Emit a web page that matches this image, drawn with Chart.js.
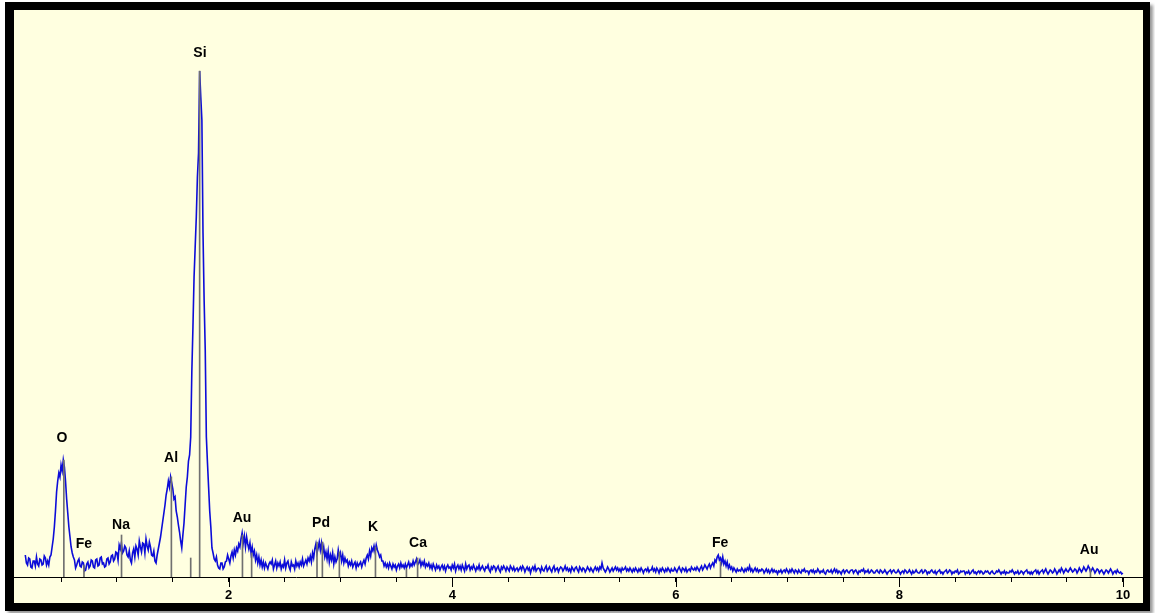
<!DOCTYPE html>
<html>
<head>
<meta charset="utf-8">
<script src="https://cdn.jsdelivr.net/npm/chart.js@4/dist/chart.umd.min.js"></script>
<style>
  body { margin: 0; background: #fff; width: 1155px; height: 613px; overflow: hidden; }
  #frame {
    position: absolute; left: 5px; top: 2px; width: 1129px; height: 593px;
    border-style: solid; border-color: #000; border-width: 8px 7px 8px 9px;
    background: #FFFFE0; box-shadow: 3px 3px 3px #999;
  }
  #spectrum { display: block; }
</style>
</head>
<body>
<div id="frame"><canvas id="spectrum" width="1129" height="593"></canvas></div>
<script>
// EDS spectrum, one channel every 0.01 keV starting at 0.18 keV
const startEnergy = 0.18;
const channelWidth = 0.01;
const counts = [
  22, 14, 12, 19, 18, 10, 9, 16, 16, 11, 20, 13, 11, 18, 17, 12, 13, 21, 19, 12,
  16, 12, 20, 22, 30, 38, 50, 66, 85, 96, 104, 100, 112, 106, 117, 110, 96, 78, 64, 50,
  40, 30, 24, 20, 17, 9, 12, 16, 18, 11, 10, 15, 14, 6, 7, 13, 15, 9, 11, 17,
  16, 10, 9, 17, 18, 11, 12, 19, 20, 13, 14, 10, 11, 18, 19, 13, 15, 21, 22, 16,
  18, 25, 24, 17, 32, 28, 34, 24, 26, 31, 29, 22, 20, 26, 17, 14, 24, 28, 20, 31,
  28, 22, 36, 30, 25, 34, 33, 24, 38, 31, 27, 35, 30, 22, 21, 26, 16, 14, 22, 28,
  34, 40, 48, 56, 64, 72, 82, 88, 96, 90, 100, 94, 88, 78, 80, 66, 60, 52, 45, 36,
  29, 42, 54, 72, 90, 100, 116, 122, 140, 205, 250, 300, 330, 360, 400, 424, 506, 480, 457, 344,
  277, 227, 140, 114, 90, 66, 50, 29, 24, 18, 16, 20, 12, 9, 8, 14, 14, 8, 10, 15,
  16, 22, 18, 14, 21, 25, 19, 27, 22, 29, 26, 33, 30, 38, 44, 34, 41, 30, 40, 33,
  28, 34, 24, 30, 22, 26, 17, 22, 14, 20, 12, 17, 10, 15, 9, 14, 11, 8, 13, 15,
  13, 17, 8, 12, 16, 9, 14, 11, 15, 8, 12, 10, 17, 9, 14, 16, 10, 7, 15, 11,
  12, 8, 16, 11, 14, 10, 15, 12, 18, 11, 14, 17, 13, 19, 16, 21, 15, 24, 19, 28,
  33, 24, 29, 35, 27, 34, 24, 30, 20, 25, 18, 26, 15, 22, 17, 24, 13, 20, 15, 18,
  27, 20, 24, 16, 22, 14, 19, 15, 17, 11, 15, 12, 16, 10, 13, 15, 9, 14, 11, 13,
  15, 10, 14, 17, 13, 19, 22, 18, 26, 21, 29, 26, 31, 25, 32, 27, 24, 20, 22, 16,
  16, 11, 14, 10, 13, 9, 14, 11, 8, 13, 10, 12, 7, 11, 13, 9, 14, 10, 12, 9,
  13, 9, 12, 15, 10, 13, 11, 16, 12, 15, 18, 12, 14, 17, 11, 15, 12, 16, 10, 13,
  11, 14, 9, 12, 8, 13, 10, 7, 12, 9, 11, 7, 10, 12, 8, 11, 6, 10, 12, 9,
  10, 7, 12, 9, 13, 6, 10, 12, 8, 11, 7, 12, 9, 6, 13, 8, 11, 12, 7, 10,
  8, 12, 9, 6, 10, 8, 12, 7, 9, 11, 8, 6, 10, 9, 12, 7, 5, 10, 8, 11,
  10, 6, 9, 11, 7, 5, 10, 8, 11, 9, 6, 10, 8, 6, 11, 9, 7, 10, 6, 8,
  9, 6, 8, 10, 7, 11, 9, 5, 8, 10, 7, 9, 4, 8, 10, 7, 11, 6, 8, 9,
  8, 5, 10, 7, 6, 9, 11, 6, 8, 10, 7, 5, 9, 11, 6, 8, 9, 5, 8, 10,
  9, 6, 8, 11, 7, 9, 6, 8, 5, 10, 8, 6, 9, 10, 7, 5, 10, 8, 6, 9,
  8, 5, 7, 10, 8, 6, 9, 7, 5, 8, 10, 7, 9, 6, 10, 8, 14, 9, 7, 5,
  7, 10, 8, 5, 7, 9, 6, 8, 10, 7, 9, 6, 8, 5, 9, 7, 8, 10, 6, 8,
  6, 9, 7, 5, 8, 6, 9, 7, 5, 8, 6, 9, 7, 4, 7, 8, 6, 9, 5, 7,
  7, 10, 6, 8, 5, 9, 7, 4, 8, 6, 9, 7, 5, 8, 6, 9, 7, 5, 8, 6,
  6, 9, 7, 5, 8, 10, 7, 5, 9, 8, 6, 9, 5, 7, 8, 6, 10, 8, 7, 9,
  7, 10, 8, 6, 9, 11, 7, 9, 12, 10, 8, 11, 13, 9, 12, 14, 11, 17, 15, 20,
  22, 17, 19, 14, 20, 13, 16, 11, 15, 9, 12, 8, 10, 6, 9, 7, 5, 8, 6, 7,
  6, 9, 7, 5, 8, 6, 9, 7, 11, 6, 8, 5, 7, 9, 6, 8, 5, 7, 6, 8,
  7, 4, 6, 8, 5, 7, 4, 6, 8, 5, 7, 5, 6, 3, 6, 5, 7, 4, 6, 7,
  5, 8, 6, 4, 7, 5, 8, 6, 4, 7, 6, 4, 7, 5, 4, 7, 6, 8, 5, 6,
  6, 3, 6, 7, 5, 7, 4, 6, 5, 8, 6, 4, 6, 5, 7, 4, 3, 6, 7, 5,
  5, 7, 4, 6, 8, 5, 7, 4, 6, 5, 3, 6, 7, 4, 6, 7, 5, 4, 6, 7,
  7, 4, 6, 7, 5, 3, 6, 5, 7, 6, 8, 4, 6, 5, 7, 4, 5, 7, 6, 4,
  4, 6, 7, 5, 4, 7, 6, 4, 5, 7, 5, 3, 5, 6, 7, 4, 6, 7, 5, 4,
  5, 7, 5, 3, 5, 6, 4, 7, 6, 4, 5, 7, 5, 3, 6, 4, 5, 7, 5, 4,
  4, 6, 7, 4, 5, 7, 6, 3, 5, 4, 6, 7, 5, 4, 6, 3, 5, 6, 7, 4,
  5, 3, 5, 6, 7, 4, 5, 7, 6, 3, 5, 4, 6, 5, 7, 3, 4, 6, 5, 6,
  6, 3, 5, 4, 6, 3, 4, 6, 7, 4, 5, 3, 5, 6, 4, 6, 5, 3, 4, 6,
  5, 6, 4, 3, 5, 6, 4, 3, 4, 6, 5, 7, 5, 3, 5, 4, 6, 3, 5, 4,
  4, 6, 5, 7, 5, 3, 5, 4, 6, 3, 4, 6, 5, 3, 5, 6, 7, 4, 5, 3,
  5, 3, 5, 6, 7, 4, 6, 3, 5, 6, 7, 4, 6, 8, 5, 3, 5, 7, 6, 4,
  5, 8, 6, 3, 5, 7, 5, 9, 7, 4, 6, 8, 6, 5, 7, 9, 7, 5, 6, 8,
  7, 4, 6, 9, 7, 5, 7, 10, 8, 6, 8, 11, 9, 5, 7, 9, 7, 4, 6, 8,
  7, 4, 6, 7, 5, 3, 5, 7, 6, 4, 6, 8, 6, 3, 5, 6, 4, 7, 5, 4,
  5, 3, 4
];

// KLM marker lines
const markerEnergies = [0.525, 0.705, 1.041, 1.487, 1.66, 1.740, 2.123, 2.205, 2.79, 2.838, 2.99, 3.313, 3.59, 3.69, 6.40, 9.71];
const markerHeights  = [117, 12, 42, 100, 19, 506, 42, 24, 35, 35, 25, 30, 8, 19, 15, 8];

// element labels
const labelNames    = ['O', 'Fe', 'Na', 'Al', 'Si', 'Au', 'Pd', 'K', 'Ca', 'Fe', 'Au'];
const labelEnergies = [0.508, 0.705, 1.036, 1.484, 1.743, 2.119, 2.826, 3.291, 3.694, 6.396, 9.698];
const labelHeights  = [139, 33, 52, 119, 524, 59, 54, 50, 34, 34, 27];

const majorTicks = [2, 4, 6, 8, 10];

const spectrumPoints = counts.map((c, i) => ({ x: +(startEnergy + i * channelWidth).toFixed(2), y: c }));
const markerPoints = markerEnergies.map((e, i) => ({ x: e, y: markerHeights[i] }));

const annotate = {
  id: 'annotate',
  afterDatasetsDraw(chart) {
    const ctx = chart.ctx;
    const xs = chart.scales.x, ys = chart.scales.y;
    ctx.save();
    // longer ticks at labelled values
    ctx.strokeStyle = '#000';
    ctx.lineWidth = 1;
    majorTicks.forEach(v => {
      const px = Math.round(xs.getPixelForValue(v)) + 0.5;
      ctx.beginPath();
      ctx.moveTo(px, ys.bottom);
      ctx.lineTo(px, ys.bottom + 10);
      ctx.stroke();
    });
    ctx.fillStyle = '#000';
    ctx.font = 'bold 14px "Liberation Sans", Arial, sans-serif';
    ctx.textAlign = 'center';
    ctx.textBaseline = 'middle';
    labelNames.forEach((name, i) => {
      ctx.fillText(name, xs.getPixelForValue(labelEnergies[i]), ys.getPixelForValue(labelHeights[i]));
    });
    ctx.restore();
  }
};

new Chart(document.getElementById('spectrum'), {
  type: 'line',
  data: {
    datasets: [
      {
        type: 'bar',
        data: markerPoints,
        backgroundColor: '#707070',
        barThickness: 1,
        grouped: false,
        order: 0
      },
      {
        data: spectrumPoints,
        borderColor: '#0C0CD8',
        borderWidth: 1.6,
        pointRadius: 0,
        tension: 0,
        order: 1
      }
    ]
  },
  options: {
    responsive: false,
    animation: false,
    devicePixelRatio: 1,
    layout: { padding: 0 },
    plugins: { legend: { display: false }, tooltip: { enabled: false } },
    scales: {
      x: {
        type: 'linear',
        min: 0.079,
        max: 10.18,
        offset: false,
        border: { color: '#000', width: 1 },
        grid: { drawOnChartArea: false, offset: false, color: '#000', tickLength: 5 },
        ticks: {
          stepSize: 0.5,
          includeBounds: false,
          autoSkip: false,
          maxRotation: 0,
          padding: 6,
          color: '#000',
          font: { family: '"Liberation Sans", Arial, sans-serif', size: 13, weight: 'bold' },
          callback: v => (majorTicks.includes(v) ? String(v) : '')
        },
        afterFit: scale => { scale.height = 26; }
      },
      y: {
        display: false,
        min: 0,
        max: 567
      }
    }
  },
  plugins: [annotate]
});
</script>
</body>
</html>
